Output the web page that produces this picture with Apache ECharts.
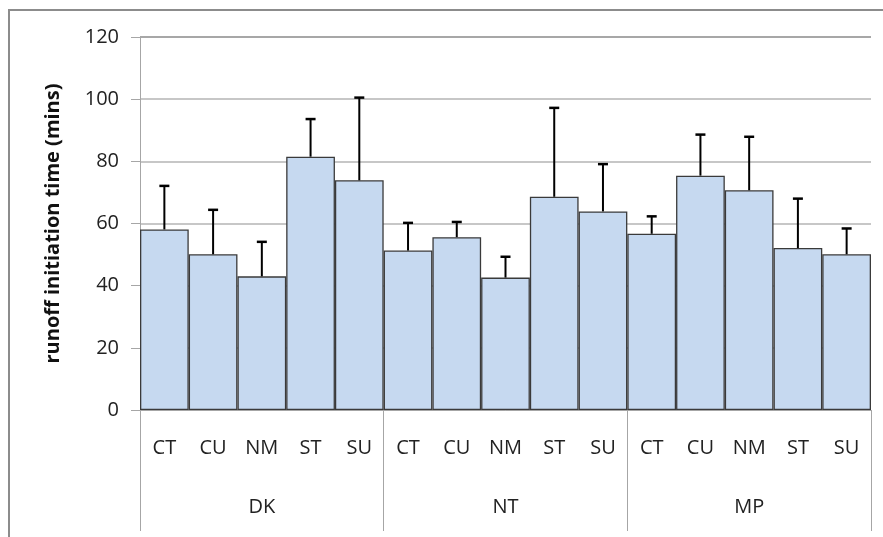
<!DOCTYPE html>
<html>
<head>
<meta charset="utf-8">
<script src="https://cdn.jsdelivr.net/npm/echarts@6/dist/echarts.min.js"></script>
<style>html,body{margin:0;padding:0;background:#fff}#c{width:883px;height:537px}</style>
</head>
<body>
<div id="c"></div>
<script>
const categories = ['CT','CU','NM','ST','SU','CT','CU','NM','ST','SU','CT','CU','NM','ST','SU'];
const groups = ['DK','NT','MP'];
const means = [58.1,50.1,43.0,81.5,73.9, 51.3,55.6,42.6,68.6,63.9, 56.7,75.4,70.7,52.1,50.1];
const errorTops = [72.1,64.4,54.1,93.6,100.5, 60.2,60.5,49.3,97.2,79.1, 62.3,88.6,87.9,68.0,58.4];
const yTicks = [0,20,40,60,80,100,120];

const FONT = 'Open Sans';
const chart = echarts.init(document.getElementById('c'), null, {renderer:'canvas'});
const errData = means.map((m,i)=>[i, m, errorTops[i]]);

chart.setOption({
  animation:false,
  backgroundColor:'#fff',
  graphic:[{
    type:'polyline', silent:true,
    shape:{points:[[9,540],[9,10],[890,10]]},
    style:{stroke:'#8c8c8c', lineWidth:2, fill:null}
  }],
  grid:{left:140, right:12, top:37, bottom:127, containLabel:false},
  xAxis:[{
    type:'category', data:categories, position:'bottom',
    axisLine:{show:true, lineStyle:{color:'#a6a6a6', width:1}},
    axisTick:{show:false},
    axisLabel:{color:'#222', fontFamily:FONT, fontSize:20, margin:28, interval:0}
  },{
    type:'category', data:groups, position:'bottom',
    axisLine:{show:false},
    axisTick:{show:true, length:121, lineStyle:{color:'#a6a6a6', width:1}},
    axisLabel:{color:'#222', fontFamily:FONT, fontSize:20, margin:87, interval:0}
  }],
  yAxis:{
    type:'value', min:yTicks[0], max:yTicks[yTicks.length-1], interval:20,
    name:'runoff initiation time (mins)', nameLocation:'middle', nameGap:77,
    nameTextStyle:{fontFamily:FONT, fontWeight:'bold', fontSize:20, color:'#111'},
    axisLine:{show:true, lineStyle:{color:'#a6a6a6', width:1}},
    axisTick:{show:true, inside:false, length:9, lineStyle:{color:'#a6a6a6'}},
    axisLabel:{color:'#222', fontFamily:FONT, fontSize:20, margin:21},
    splitLine:{show:true, lineStyle:{color:['#a6a6a6','#b4b4b4','#b4b4b4','#b4b4b4','#b4b4b4','#b4b4b4','#8a8a8a'], width:1.5}}
  },
  series:[{
    type:'bar', data:means, xAxisIndex:0, barCategoryGap:'0%', barGap:'0%',
    itemStyle:{color:'#c6d9f0', borderColor:'#3a3a3a', borderWidth:1.3}
  },{
    type:'custom', xAxisIndex:0, data:errData, z:5,
    renderItem:function(params, api){
      const x = api.value(0);
      const p0 = api.coord([x, api.value(1)]);
      const p1 = api.coord([x, api.value(2)]);
      const hw = 5;
      return {type:'group', children:[
        {type:'line', shape:{x1:p0[0], y1:p0[1], x2:p1[0], y2:p1[1]}, style:{stroke:'#000', lineWidth:2}},
        {type:'line', shape:{x1:p1[0]-hw, y1:p1[1], x2:p1[0]+hw, y2:p1[1]}, style:{stroke:'#000', lineWidth:2.5}}
      ]};
    }
  }]
});
</script>
</body>
</html>
